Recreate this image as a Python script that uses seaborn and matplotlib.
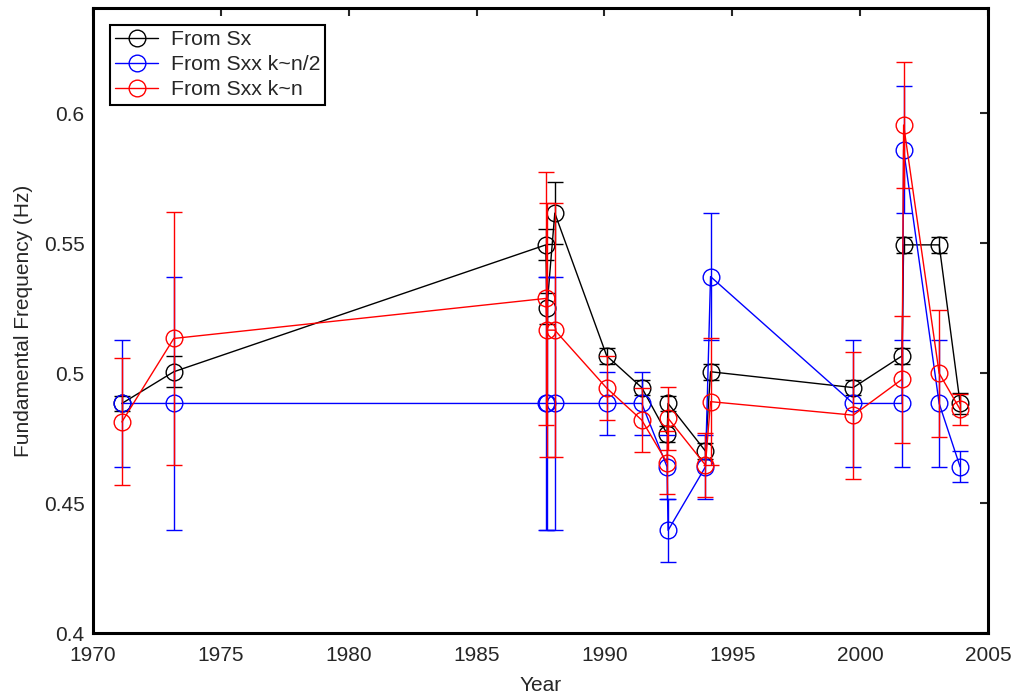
import numpy as np
import pandas as pd
import seaborn as sns
import matplotlib.pyplot as plt
from matplotlib.lines import Line2D

# observation dates (decimal years)
years = [1971.13, 1973.16, 1987.71, 1987.75, 1988.06, 1990.09, 1991.46, 1992.45,
         1992.49, 1993.95, 1994.15, 1999.73, 2001.64, 2001.70, 2003.09, 2003.91]

sx = [0.4883, 0.5005, 0.5493, 0.5249, 0.5615, 0.5066, 0.4944, 0.4766,
      0.4883, 0.4700, 0.5005, 0.4944, 0.5066, 0.5493, 0.5493, 0.4883]
sx_err = [0.003, 0.006, 0.006, 0.006, 0.012, 0.003, 0.003, 0.003,
          0.003, 0.003, 0.003, 0.003, 0.003, 0.003, 0.003, 0.004]

sxx_half = [0.4883, 0.4883, 0.4883, 0.4883, 0.4883, 0.4883, 0.4883, 0.4639,
            0.4395, 0.4639, 0.5371, 0.4883, 0.4883, 0.5859, 0.4883, 0.4639]
sxx_half_err = [0.0244, 0.0488, 0.0488, 0.0488, 0.0488, 0.0122, 0.0122, 0.0122,
                0.0122, 0.0122, 0.0244, 0.0244, 0.0244, 0.0244, 0.0244, 0.006]

sxx_full = [0.4812, 0.5133, 0.5287, 0.5165, 0.5165, 0.4942, 0.4819, 0.4655,
            0.4826, 0.4646, 0.4890, 0.4838, 0.4976, 0.5954, 0.4999, 0.4860]
sxx_full_err = [0.0244, 0.0488, 0.0488, 0.0488, 0.0488, 0.0122, 0.0122, 0.0122,
                0.0122, 0.0122, 0.0244, 0.0244, 0.0244, 0.0244, 0.0244, 0.006]

labels = ["From Sx", "From Sxx k~n/2", "From Sxx k~n"]
colors = ["black", "blue", "red"]

xticks = [1970, 1975, 1980, 1985, 1990, 1995, 2000, 2005]
yticks = [0.4, 0.45, 0.5, 0.55, 0.6]
ytick_labels = ["0.4", "0.45", "0.5", "0.55", "0.6"]

sns.set_style("white")
plt.rcParams['font.family'] = ['Liberation Sans', 'DejaVu Sans']

fig = plt.figure(figsize=(10.15, 6.98), dpi=100)
ax = fig.add_axes([0.0916, 0.0931, 0.8818, 0.8954])

series = [(sx, sx_err), (sxx_half, sxx_half_err), (sxx_full, sxx_full_err)]
for (vals, errs), lab, col in zip(series, labels, colors):
    df = pd.DataFrame({"Year": years, "Freq": vals})
    ax.errorbar(years, vals, yerr=errs, fmt="none", ecolor=col,
                elinewidth=1.0, capsize=6, capthick=1.0)
    sns.lineplot(data=df, x="Year", y="Freq", sort=False, estimator=None,
                 color=col, lw=1.0, marker="o", ms=12, mfc="none",
                 mec=col, mew=1.0, ax=ax)

ax.set_xlim(1970, 2005)
ax.set_ylim(0.4, 0.6404)
ax.set_xticks(xticks)
ax.set_yticks(yticks)
ax.set_yticklabels(ytick_labels)
ax.tick_params(axis="both", direction="in", length=6, width=1.5, top=True,
               right=True, labelsize=15)
ax.tick_params(axis="x", pad=9)
ax.tick_params(axis="y", pad=6)
for s in ax.spines.values():
    s.set_linewidth(2.2)
    s.set_color("black")

ax.set_xlabel("Year", fontsize=15, labelpad=8)
ax.set_ylabel("Fundamental Frequency (Hz)", fontsize=15, labelpad=8)

handles = [Line2D([], [], color=c, lw=1.0, marker="o", ms=12, mfc="none", mec=c)
           for c in colors]
leg = ax.legend(handles, labels, loc="upper left", fontsize=15.3, frameon=True,
                fancybox=False, edgecolor="black", framealpha=1,
                borderaxespad=0.8, labelspacing=0.28, handlelength=2.0,
                handletextpad=0.6, borderpad=0.25)
leg.get_frame().set_linewidth(1.5)

fig.savefig("out.png", dpi=100)
